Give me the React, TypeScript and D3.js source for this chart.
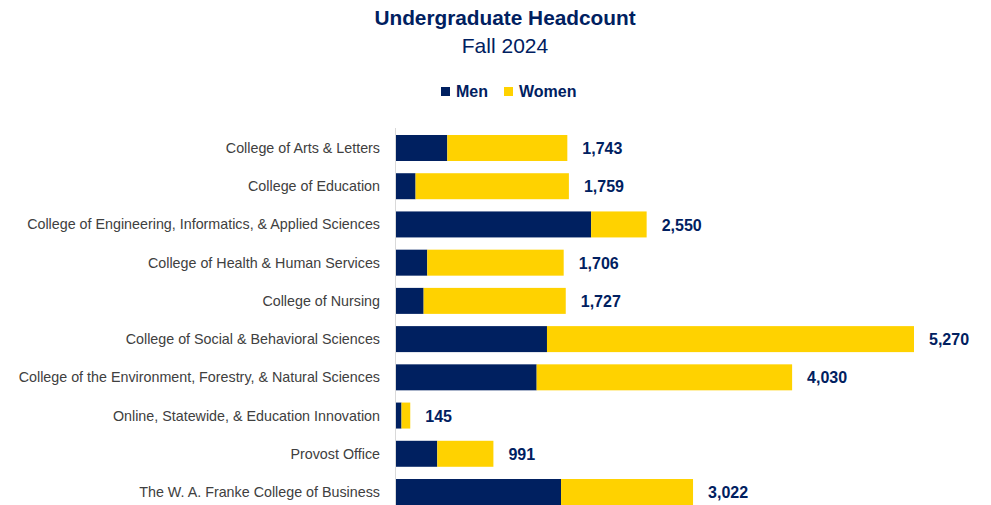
import React from 'react';
import * as d3 from 'd3';

// data
const colleges = [
  'College of Arts & Letters',
  'College of Education',
  'College of Engineering, Informatics, & Applied Sciences',
  'College of Health & Human Services',
  'College of Nursing',
  'College of Social & Behavioral Sciences',
  'College of the Environment, Forestry, & Natural Sciences',
  'Online, Statewide, & Education Innovation',
  'Provost Office',
  'The W. A. Franke College of Business',
];
const men = [522, 199, 1985, 318, 281, 1536, 1431, 56, 420, 1679];
const totals = [1743, 1759, 2550, 1706, 1727, 5270, 4030, 145, 991, 3022];
const women = totals.map((t, i) => t - men[i]);
const seriesNames = ['Men', 'Women'];

const NAVY = '#002060';
const GOLD = '#FFD200';
const W = 991;
const H = 505;
const FONT = "'Liberation Sans', Arial, sans-serif";

export default function App() {
  const x = d3.scaleLinear().domain([0, 5270]).range([396, 914]);
  const y = d3
    .scaleBand()
    .domain(colleges)
    .range([128.5, 128.5 + 38.3 * colleges.length])
    .paddingInner(0.32)
    .paddingOuter(0.17);

  const rows = colleges.map((c, i) => ({ name: c, men: men[i], women: women[i], total: totals[i] }));
  const stacked = d3.stack<any>().keys(['men', 'women'])(rows);
  const colors = [NAVY, GOLD];
  const fmt = d3.format(',');

  return (
    <div style={{ position: 'absolute', left: 0, top: 0 }}>
      <svg width={W} height={H} style={{ display: 'block', background: '#fff' }}>
        <text x={505} y={25} textAnchor="middle" fontFamily={FONT} fontWeight="bold" fontSize={20.8} fill={NAVY}>
          Undergraduate Headcount
        </text>
        <text x={505} y={53} textAnchor="middle" fontFamily={FONT} fontSize={21} fill={NAVY}>
          Fall 2024
        </text>

        {/* legend */}
        {seriesNames.map((s, i) => {
          const lx = i === 0 ? 441 : 504;
          return (
            <g key={s}>
              <rect x={lx} y={87} width={9} height={9} fill={colors[i]} />
              <text x={lx + 15} y={97} fontFamily={FONT} fontWeight="bold" fontSize={16} fill={NAVY}>
                {s}
              </text>
            </g>
          );
        })}

        {/* category labels */}
        {colleges.map((c) => (
          <text
            key={c}
            x={380}
            y={(y(c) ?? 0) + y.bandwidth() / 2}
            dy="0.35em"
            textAnchor="end"
            fontFamily={FONT}
            fontSize={14.3}
            fill="#404040"
          >
            {c}
          </text>
        ))}

        {/* bars */}
        {stacked.map((layer, li) => (
          <g key={layer.key} fill={colors[li]}>
            {layer.map((d: any) => (
              <rect
                key={d.data.name}
                x={x(d[0])}
                y={y(d.data.name)}
                width={x(d[1]) - x(d[0])}
                height={y.bandwidth()}
              />
            ))}
          </g>
        ))}

        {/* axis line */}
        <line x1={395.5} x2={395.5} y1={128} y2={H} stroke="#d9d9d9" strokeWidth={1} />

        {/* totals */}
        {rows.map((r) => (
          <text
            key={r.name}
            x={x(r.total) + 15}
            y={(y(r.name) ?? 0) + y.bandwidth() / 2}
            dy="0.38em"
            fontFamily={FONT}
            fontWeight="bold"
            fontSize={16}
            fill={NAVY}
          >
            {fmt(r.total)}
          </text>
        ))}
      </svg>
    </div>
  );
}
